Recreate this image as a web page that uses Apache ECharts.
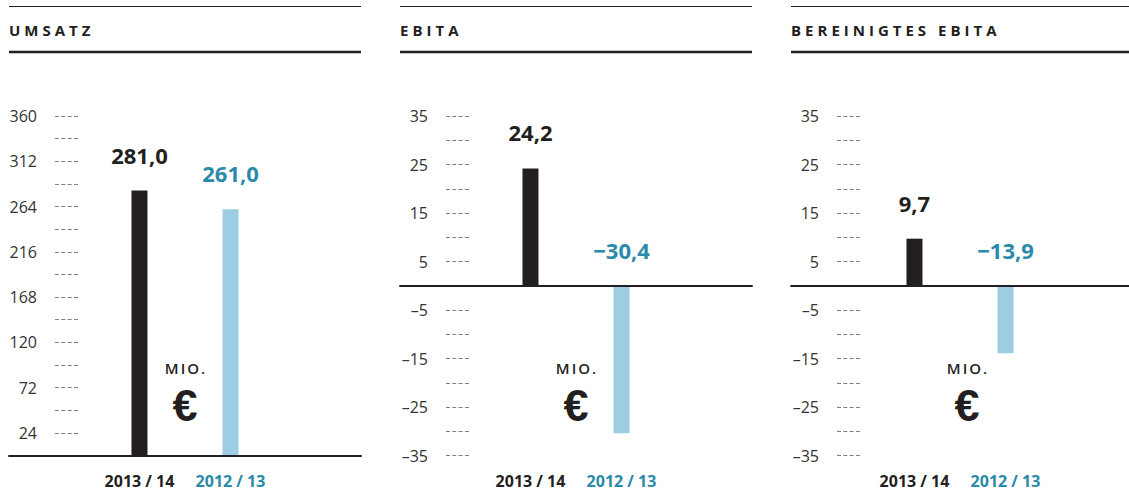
<!DOCTYPE html>
<html>
<head>
<meta charset="utf-8">
<script src="https://cdn.jsdelivr.net/npm/echarts@6/dist/echarts.min.js"></script>
<style>
  html, body { margin: 0; padding: 0; background: #fff; }
  #chart { width: 1129px; height: 490px; }
  /* gesperrte Schrift für Überschriften */
  #chart text[style*="track4"] { letter-spacing: 4px; }
  #chart text[style*="track2"] { letter-spacing: 2px; }
</style>
</head>
<body>
<div id="chart"></div>
<script>
// Daten
const titles = ['UMSATZ', 'EBITA', 'BEREINIGTES EBITA']
const periods = ['2013 / 14', '2012 / 13']
const current = [281.0, 24.2, 9.7]       // 2013/14
const previous = [261.0, -30.4, -13.9]   // 2012/13
const axisMin = [0, -35, -35]
const axisMax = [360, 35, 35]
const tickStep = [24, 5, 5]
const umsatzLabels = [24, 72, 120, 168, 216, 264, 312, 360]
const ebitaLabels = [-35, -25, -15, -5, 5, 15, 25, 35]
const tickLabels = [umsatzLabels, ebitaLabels, ebitaLabels]

const DARK = '#231f20'
const BLUE = '#9ccde3'
const TEAL = '#2a8aa9'
const FONT = "'Open Sans'"
const panelLeft = [9, 400, 791]
const panelWidth = 352

function fmtValue(v) {
  return (v < 0 ? '\u2212' : '') + Math.abs(v).toFixed(1).replace('.', ',')
}
function fmtTick(v) {
  return v < 0 ? '\u2013' + Math.abs(v) : String(v)
}

const grid = [], xAxis = [], yAxis = [], series = [], title = [], graphic = []

titles.forEach((t, i) => {
  const L = panelLeft[i]
  grid.push({ left: L, width: panelWidth, top: 116, height: 339.5 })

  // Nulllinie
  xAxis.push({
    type: 'category',
    gridIndex: i,
    data: [periods.join(' ')],
    z: 3,
    axisLine: { onZero: true, lineStyle: { color: DARK, width: 2 } },
    axisTick: { show: false },
    axisLabel: { show: false }
  })
  // Beschriftung unten
  xAxis.push({
    type: 'category',
    gridIndex: i,
    position: 'bottom',
    data: [periods.join(' ')],
    axisLine: { show: false, onZero: false },
    axisTick: { show: false },
    axisLabel: {
      margin: 16,
      formatter: () => '{a|' + periods[0] + '}{g| }{b|' + periods[1] + '}',
      rich: {
        a: { color: DARK, fontFamily: FONT, fontSize: 16, fontWeight: 700, width: 72, align: 'center', lineHeight: 18 },
        g: { width: 19 },
        b: { color: TEAL, fontFamily: FONT, fontSize: 16, fontWeight: 700, width: 72, align: 'center', lineHeight: 18 }
      }
    }
  })

  yAxis.push({
    type: 'value',
    gridIndex: i,
    min: axisMin[i],
    max: axisMax[i],
    interval: tickStep[i],
    offset: -69,
    axisLine: { show: false },
    axisTick: { show: true, length: 23, lineStyle: { color: '#808080', width: 1, type: [4, 2.33] } },
    splitLine: { show: false },
    axisLabel: {
      margin: 41,
      color: '#333',
      fontFamily: FONT,
      fontSize: 16,
      formatter: v => tickLabels[i].includes(v) ? fmtTick(v) : ''
    }
  })

  const label = (color) => ({
    show: true,
    position: 'top',
    distance: 24,
    color: color,
    fontFamily: FONT,
    fontSize: 22,
    fontWeight: 700,
    lineHeight: 24,
    formatter: p => fmtValue(p.value)
  })
  series.push({
    type: 'bar', name: periods[0], xAxisIndex: 2 * i, yAxisIndex: i,
    data: [current[i]], barWidth: 16, barGap: '469%',
    itemStyle: { color: DARK }, label: label(DARK)
  })
  series.push({
    type: 'bar', name: periods[1], xAxisIndex: 2 * i, yAxisIndex: i,
    data: [previous[i]], barWidth: 16, barGap: '469%',
    itemStyle: { color: BLUE }, label: label(TEAL)
  })

  title.push({
    text: t,
    left: L,
    top: 22,
    padding: 0,
    textStyle: { fontFamily: FONT + ', track4', fontSize: 15, fontWeight: 700, color: DARK, lineHeight: 16 }
  })

  graphic.push(
    { type: 'line', shape: { x1: L, y1: 6.5, x2: L + panelWidth, y2: 6.5 }, style: { stroke: DARK, lineWidth: 1.2 } },
    { type: 'line', shape: { x1: L, y1: 52, x2: L + panelWidth, y2: 52 }, style: { stroke: DARK, lineWidth: 2.6 } },
    { type: 'text', x: L + panelWidth / 2 + 1, y: 368,
      style: { text: 'MIO.', fill: DARK, font: "600 15px " + FONT + ", track2", lineHeight: 16, align: 'center', verticalAlign: 'middle' } },
    { type: 'text', x: L + panelWidth / 2, y: 405,
      style: { text: '\u20ac', fill: DARK, font: "700 45px 'Liberation Sans'", lineHeight: 32, align: 'center', verticalAlign: 'middle' } }
  )
})

const chart = echarts.init(document.getElementById('chart'), null, { renderer: 'svg' })
chart.setOption({
  animation: false,
  title: title,
  grid: grid,
  xAxis: xAxis,
  yAxis: yAxis,
  series: series,
  graphic: graphic
})
</script>
</body>
</html>
